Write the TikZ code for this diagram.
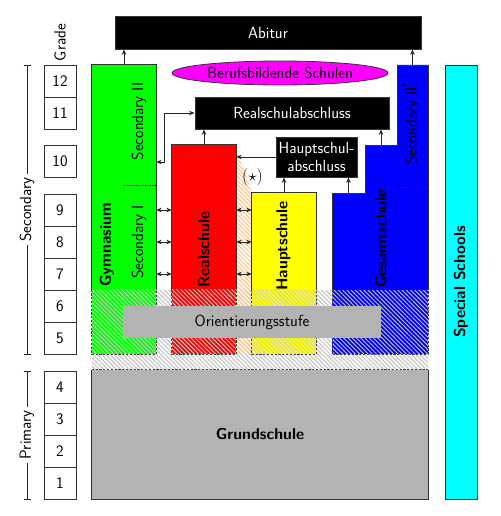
\documentclass[tikz,border=0pt]{standalone}
\usetikzlibrary{shapes.geometric,arrows.meta,patterns.meta}
\definecolor{cgreen}{RGB}{0,255,0}
\definecolor{cred}{RGB}{255,0,0}
\definecolor{cyellow}{RGB}{255,255,0}
\definecolor{cblue}{RGB}{0,0,255}
\definecolor{ccyan}{RGB}{0,255,255}
\definecolor{cmagenta}{RGB}{255,0,255}
\definecolor{cgray}{RGB}{179,179,179}
\definecolor{corange}{RGB}{255,200,140}
\begin{document}
\begin{tikzpicture}[x=1pt,y=-1pt,
  >={Stealth[length=5.5pt,width=4.5pt]},
  every node/.style={font=\sffamily\fontsize{16.1}{18}\selectfont, inner sep=0pt},
  bx/.style={draw=black!80, line width=0.8pt},
  blk/.style={bx, fill=black, text=white},
  gradebox/.style={bx, fill=white, minimum width=32pt, minimum height=32pt},
  hatchgray/.style={pattern={Lines[angle=-45,distance=3pt,line width=1.2pt]}, pattern color=black!22},
  hatchover/.style={pattern={Lines[angle=-45,distance=3pt,line width=0.9pt]}, pattern color=white!80!black},
  hatchorange/.style={pattern={Lines[angle=-45,distance=3pt,line width=1.2pt]}, pattern color=corange},
  dashb/.style={draw=black!75, line width=0.8pt, dash pattern=on 2.2pt off 1.6pt},
  conn/.style={line width=0.9pt, draw=black!85},
  lab/.style={rotate=90},
  blab/.style={rotate=90, font=\sffamily\bfseries\fontsize{15.8}{18}\selectfont},
]
\useasboundingbox (0,0) rectangle (500,516);

% grade boxes
\foreach \n/\yy in {12/81,11/113,10/161.5,9/210,8/242,7/274,6/306,5/338,4/387,3/419,2/451,1/483}
  \node[gradebox] (g\n) at (60,\yy) {\n};
\node[lab] (gradelab) at (60,42.5) {Grade};

% background hatch
\fill[hatchgray] (92,290) rectangle (428,370);
\fill[white] (236,145) -- (252,193) -- (252,290) -- (236,290) -- cycle;
\fill[hatchorange] (236,145) -- (252,193) -- (252,354) -- (236,354) -- cycle;

% columns
\node[fill=cgreen, minimum width=64pt, minimum height=289pt] (gym) at (124,209.5) {};
\node[fill=cred, minimum width=64pt, minimum height=209pt] (real) at (204,249.5) {};
\node[fill=cyellow, minimum width=64pt, minimum height=161pt] (haupt) at (284,273.5) {};
\fill[cblue] (332,354) -- (332,193) -- (365,193) -- (365,145) -- (397,145) -- (397,65) -- (428,65) -- (428,354) -- cycle;
\coordinate (btop) at (412.5,65);
\coordinate (bmid) at (381,145);
\coordinate (blow) at (348.5,193);

% hatched lower parts
\foreach \c in {gym,real,haupt}{
  \fill[hatchover] (\c.south west) rectangle (\c.east |- g6.north);
  \draw[bx] (\c.west |- g6.north) |- (\c.north east) -- (\c.east |- g6.north);
  \draw[dashb] (\c.west |- g6.north) -- (\c.south west) -- (\c.south east) -- (\c.east |- g6.north);
}
\fill[hatchover] (332,290) rectangle (428,354);
\draw[bx] (332,290) -- (332,193) -- (365,193) -- (365,145) -- (397,145) -- (397,65) -- (428,65) -- (428,290);
\draw[dashb] (332,290) -- (332,354) -- (428,354) -- (428,290);

% dotted separators
\draw[densely dotted, line width=0.8pt] (123,185.5) -- (156,185.5);
\draw[densely dotted, line width=0.8pt] (397,185.5) -- (428,185.5);

% Grundschule
\node[fill=cgray, minimum width=336pt, minimum height=129pt, font=\sffamily\bfseries\fontsize{15.8}{18}\selectfont] (grund) at (260,434.5) {Grundschule};
\draw[bx] (grund.north west) -- (grund.south west) -- (grund.south east) -- (grund.north east);
\draw[dashb] (grund.north west) -- (grund.north east);

% Orientierungsstufe
\node[fill=cgray, minimum width=258pt, minimum height=32pt] (orient) at (252,322) {Orientierungsstufe};

% special schools
\node[bx, fill=ccyan, minimum width=32pt, minimum height=434pt] (special) at (461,282) {};
\node[blab] (speciallab) at (special) {Special Schools};

% top boxes
\node[blk, minimum width=306pt, minimum height=33pt] (abitur) at (268,32.5) {Abitur};
\draw[bx, fill=cmagenta] (280,73) ellipse [x radius=108, y radius=12];
\node (beruf) at (280,73) {Berufsbildende Schulen};
\node[blk, minimum width=194pt, minimum height=32pt] (rab) at (292,113) {Realschulabschluss};
\node[blk, minimum width=81pt, minimum height=40pt, align=center] (hab) at (316.5,157) {Hauptschul-\\abschluss};

% column labels
\node[lab] (sec2) at (139,121.5) {Secondary II};
\node[lab] (sec1) at (139,242) {Secondary I};
\node[blab] (gymlab) at (107,245) {Gymnasium};
\node[blab] (reallab) at (204,249.5) {Realschule};
\node[blab] (hauptlab) at (283.5,246) {Hauptschule};
\node[blab] (gesamtlab) at (381,238.5) {Gesamtschule};
\node[lab] (sec2b) at (411,123) {Secondary II\textsuperscript{*}};
\node (star) at (252.5,177.5) {$(\star)$};

% arrows
\draw[conn,->] (gym.north) -- (gym.north |- abitur.south);
\draw[conn,->] (btop) -- (btop |- abitur.south);
\draw[conn,->] (real.north) -- (real.north |- rab.south);
\draw[conn,->] (bmid) -- (bmid |- rab.south);
\draw[conn,->] (haupt.north) -- (haupt.north |- hab.south);
\draw[conn,->] (blow) -- (blow |- hab.south);
\draw[conn,->] (hab.west) -- (hab.west -| real.east);
\coordinate (kink) at (164,162);
\draw[conn,<->] (rab.west) -| (kink) -- (kink -| gym.east);
\foreach \g in {9,8,7}{
  \draw[conn,<->] (gym.east |- g\g) -- (real.west |- g\g);
  \draw[conn,<->] (real.east |- g\g) -- (haupt.west |- g\g);
}

% left brackets
\node[lab, inner sep=3pt] (seclab) at (27,209.5) {Secondary};
\draw[conn, {Bar[width=7pt]}-] (seclab |- g12.north) -- (seclab.east);
\draw[conn, {Bar[width=7pt]}-] (seclab |- g5.south) -- (seclab.west);
\node[lab, inner sep=3pt] (primlab) at (27,435) {Primary};
\draw[conn, {Bar[width=7pt]}-] (primlab |- g4.north) -- (primlab.east);
\draw[conn, {Bar[width=7pt]}-] (primlab |- g1.south) -- (primlab.west);
\end{tikzpicture}
\end{document}
